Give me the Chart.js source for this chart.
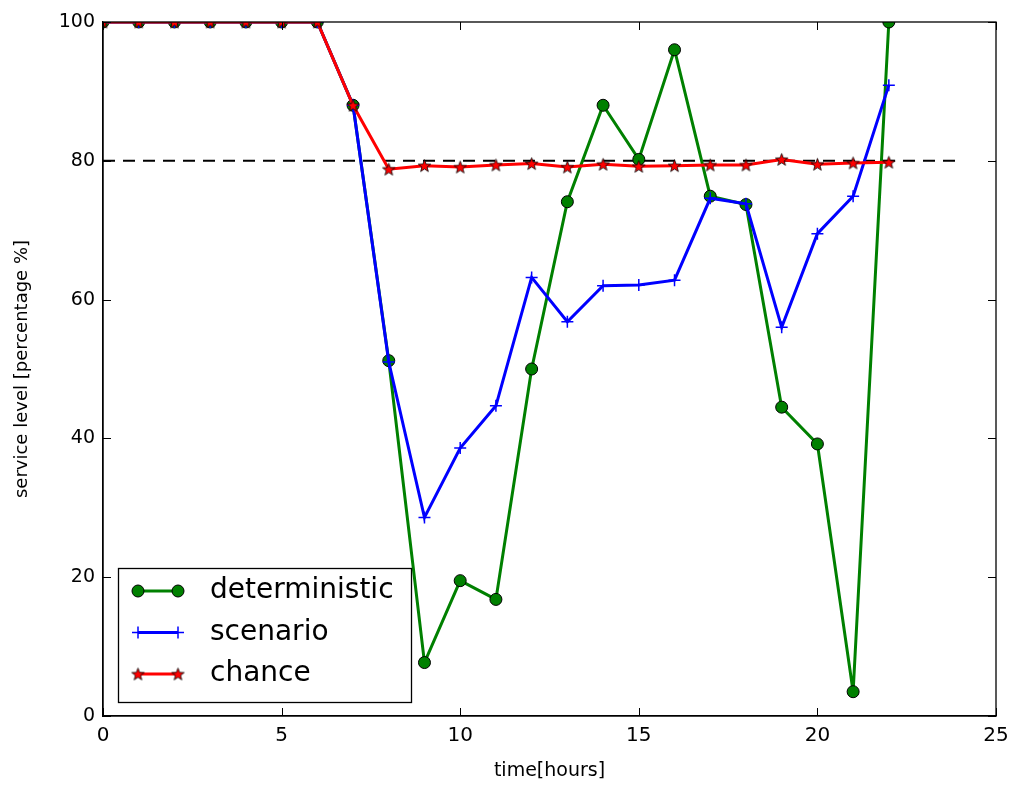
<!DOCTYPE html>
<html>
<head>
<meta charset="utf-8">
<script src="https://cdn.jsdelivr.net/npm/chart.js@4/dist/chart.umd.min.js"></script>
<style>
  html, body { margin: 0; padding: 0; background: #fff; }
  #wrap { width: 1012px; height: 785px; position: relative; }
</style>
</head>
<body>
<div id="wrap"><canvas id="serviceChart"></canvas></div>
<script>
        // Data
        const hours = [0, 1, 2, 3, 4, 5, 6, 7, 8, 9, 10, 11, 12, 13, 14, 15, 16, 17, 18, 19, 20, 21, 22];
        const deterministic = [100, 100, 100, 100, 100, 100, 100, 88, 51.2, 7.7, 19.5, 16.8, 50, 74.1, 88, 80.2, 96, 74.9, 73.7, 44.5, 39.2, 3.5, 100];
        const scenario = [100, 100, 100, 100, 100, 100, 100, 88, 51, 28.6, 38.6, 44.7, 63.2, 56.8, 62, 62.1, 62.8, 74.6, 73.8, 56, 69.5, 74.9, 90.9];
        const chance = [100, 100, 100, 100, 100, 100, 100, 88, 78.8, 79.3, 79.1, 79.4, 79.6, 79.1, 79.5, 79.2, 79.3, 79.4, 79.4, 80.2, 79.5, 79.7, 79.8];
        const targetLevel = 80;
        const targetSpan = [0, 24];
        const xTicks = [0, 5, 10, 15, 20, 25];
        const yTicks = [0, 20, 40, 60, 80, 100];

        const toPoints = (vals) => vals.map((v, i) => ({ x: hours[i], y: v }));

        // Filled star marker (matplotlib '*')
        function makeStar(size) {
            const c = document.createElement('canvas');
            c.width = size; c.height = size;
            const g = c.getContext('2d');
            const cx = size / 2, cy = size / 2 + 0.6, R = size / 2 - 1, r = R * 0.42;
            g.beginPath();
            for (let i = 0; i < 10; i++) {
                const rad = i % 2 === 0 ? R : r;
                const a = -Math.PI / 2 + i * Math.PI / 5;
                g.lineTo(cx + rad * Math.cos(a), cy + rad * Math.sin(a));
            }
            g.closePath();
            g.fillStyle = '#ff0000';
            g.fill();
            g.lineWidth = 0.8;
            g.strokeStyle = '#000';
            g.stroke();
            return c;
        }
        const starImg = makeStar(15);

        const series = [
            { label: 'deterministic', data: deterministic, color: '#008000', style: 'circle', radius: 6, bw: 1, pointBorder: '#000', order: 2 },
            { label: 'scenario', data: scenario, color: '#0000ff', style: 'cross', radius: 6, bw: 1.5, pointBorder: '#0000ff', order: 1 },
            { label: 'chance', data: chance, color: '#ff0000', style: starImg, radius: 7, bw: 1, pointBorder: '#000', order: 0 }
        ];

        // Box + inward ticks like classic matplotlib
        const frame = {
            id: 'frame',
            afterDatasetsDraw(chart) {
                const { ctx, chartArea: a, scales: { x, y } } = chart;
                ctx.save();
                ctx.strokeStyle = '#000';
                ctx.lineWidth = 1.3;
                ctx.strokeRect(a.left, a.top, a.right - a.left, a.bottom - a.top);
                ctx.lineWidth = 1;
                ctx.beginPath();
                xTicks.forEach(t => {
                    const px = Math.round(x.getPixelForValue(t)) + 0.5;
                    ctx.moveTo(px, a.bottom); ctx.lineTo(px, a.bottom - 8);
                    ctx.moveTo(px, a.top); ctx.lineTo(px, a.top + 8);
                });
                yTicks.forEach(t => {
                    const py = Math.round(y.getPixelForValue(t)) + 0.5;
                    ctx.moveTo(a.left, py); ctx.lineTo(a.left + 8, py);
                    ctx.moveTo(a.right, py); ctx.lineTo(a.right - 8, py);
                });
                ctx.stroke();
                ctx.restore();
            },
            afterDraw(chart) {
                const { ctx, chartArea: a } = chart;
                const bx = a.left + 15, by = a.bottom - 148, bw = 293, bh = 134;
                ctx.save();
                ctx.fillStyle = '#fff';
                ctx.fillRect(bx, by, bw, bh);
                ctx.strokeStyle = '#000';
                ctx.lineWidth = 1.3;
                ctx.strokeRect(bx + 0.5, by + 0.5, bw, bh);
                ctx.font = '28px "DejaVu Sans"';
                ctx.textBaseline = 'middle';
                series.forEach((s, i) => {
                    const ly = by + 23 + i * 41.5;
                    const x0 = bx + 20, x1 = bx + 60;
                    ctx.strokeStyle = s.color;
                    ctx.lineWidth = 3;
                    ctx.beginPath(); ctx.moveTo(x0, ly); ctx.lineTo(x1, ly); ctx.stroke();
                    [x0, x1].forEach(px => {
                        ctx.fillStyle = s.color;
                        ctx.strokeStyle = s.pointBorder;
                        ctx.lineWidth = s.bw;
                        Chart.helpers.drawPoint(ctx, { pointStyle: s.style, rotation: 0, radius: s.radius, borderWidth: s.bw }, px, ly);
                    });
                    ctx.fillStyle = '#000';
                    ctx.fillText(s.label, bx + 92, ly);
                });
                ctx.restore();
            }
        };

        const datasets = series.map(s => ({
            label: s.label,
            data: toPoints(s.data),
            borderColor: s.color,
            backgroundColor: s.color,
            borderWidth: 3,
            tension: 0,
            pointStyle: s.style,
            pointRadius: s.radius,
            pointBackgroundColor: s.color,
            pointBorderColor: s.pointBorder,
            pointBorderWidth: s.bw,
            order: s.order
        }));
        datasets.push({
            label: 'target',
            data: targetSpan.map(h => ({ x: h, y: targetLevel })),
            borderColor: '#000',
            borderWidth: 2,
            borderDash: [12, 8],
            pointRadius: 0,
            order: 3
        });

        const ctx = document.getElementById('serviceChart').getContext('2d');
        new Chart(ctx, {
            type: 'line',
            data: { datasets },
            options: {
                responsive: true,
                maintainAspectRatio: false,
                animation: false,
                layout: { padding: { top: 22, right: 16, left: 0, bottom: 0 } },
                plugins: {
                    legend: { display: false },
                    tooltip: { enabled: false }
                },
                scales: {
                    x: {
                        type: 'linear',
                        min: 0, max: 25,
                        afterFit: (s) => { s.height = 69; s.paddingLeft = 0; s.paddingRight = 0; },
                        afterBuildTicks: (s) => { s.ticks = xTicks.map(v => ({ value: v })); },
                        grid: { display: false, drawTicks: false },
                        border: { display: true, color: '#000', width: 1.3 },
                        ticks: { color: '#000', padding: 8, maxRotation: 0, font: { family: 'DejaVu Sans', size: 20 } },
                        title: { display: true, text: 'time[hours]', color: '#000', padding: { top: 0, bottom: 3 }, font: { family: 'DejaVu Sans', size: 19 } }
                    },
                    y: {
                        min: 0, max: 100,
                        afterFit: (s) => { s.width = 103; s.paddingTop = 0; s.paddingBottom = 0; },
                        afterBuildTicks: (s) => { s.ticks = yTicks.map(v => ({ value: v })); },
                        grid: { display: false, drawTicks: false },
                        border: { display: true, color: '#000', width: 1.3 },
                        ticks: { color: '#000', padding: 8, font: { family: 'DejaVu Sans', size: 19 } },
                        title: { display: true, text: 'service level [percentage %]', color: '#000', padding: { top: 12, bottom: 0 }, font: { family: 'DejaVu Sans', size: 18 } }
                    }
                }
            },
            plugins: [frame]
        });
</script>
</body>
</html>
